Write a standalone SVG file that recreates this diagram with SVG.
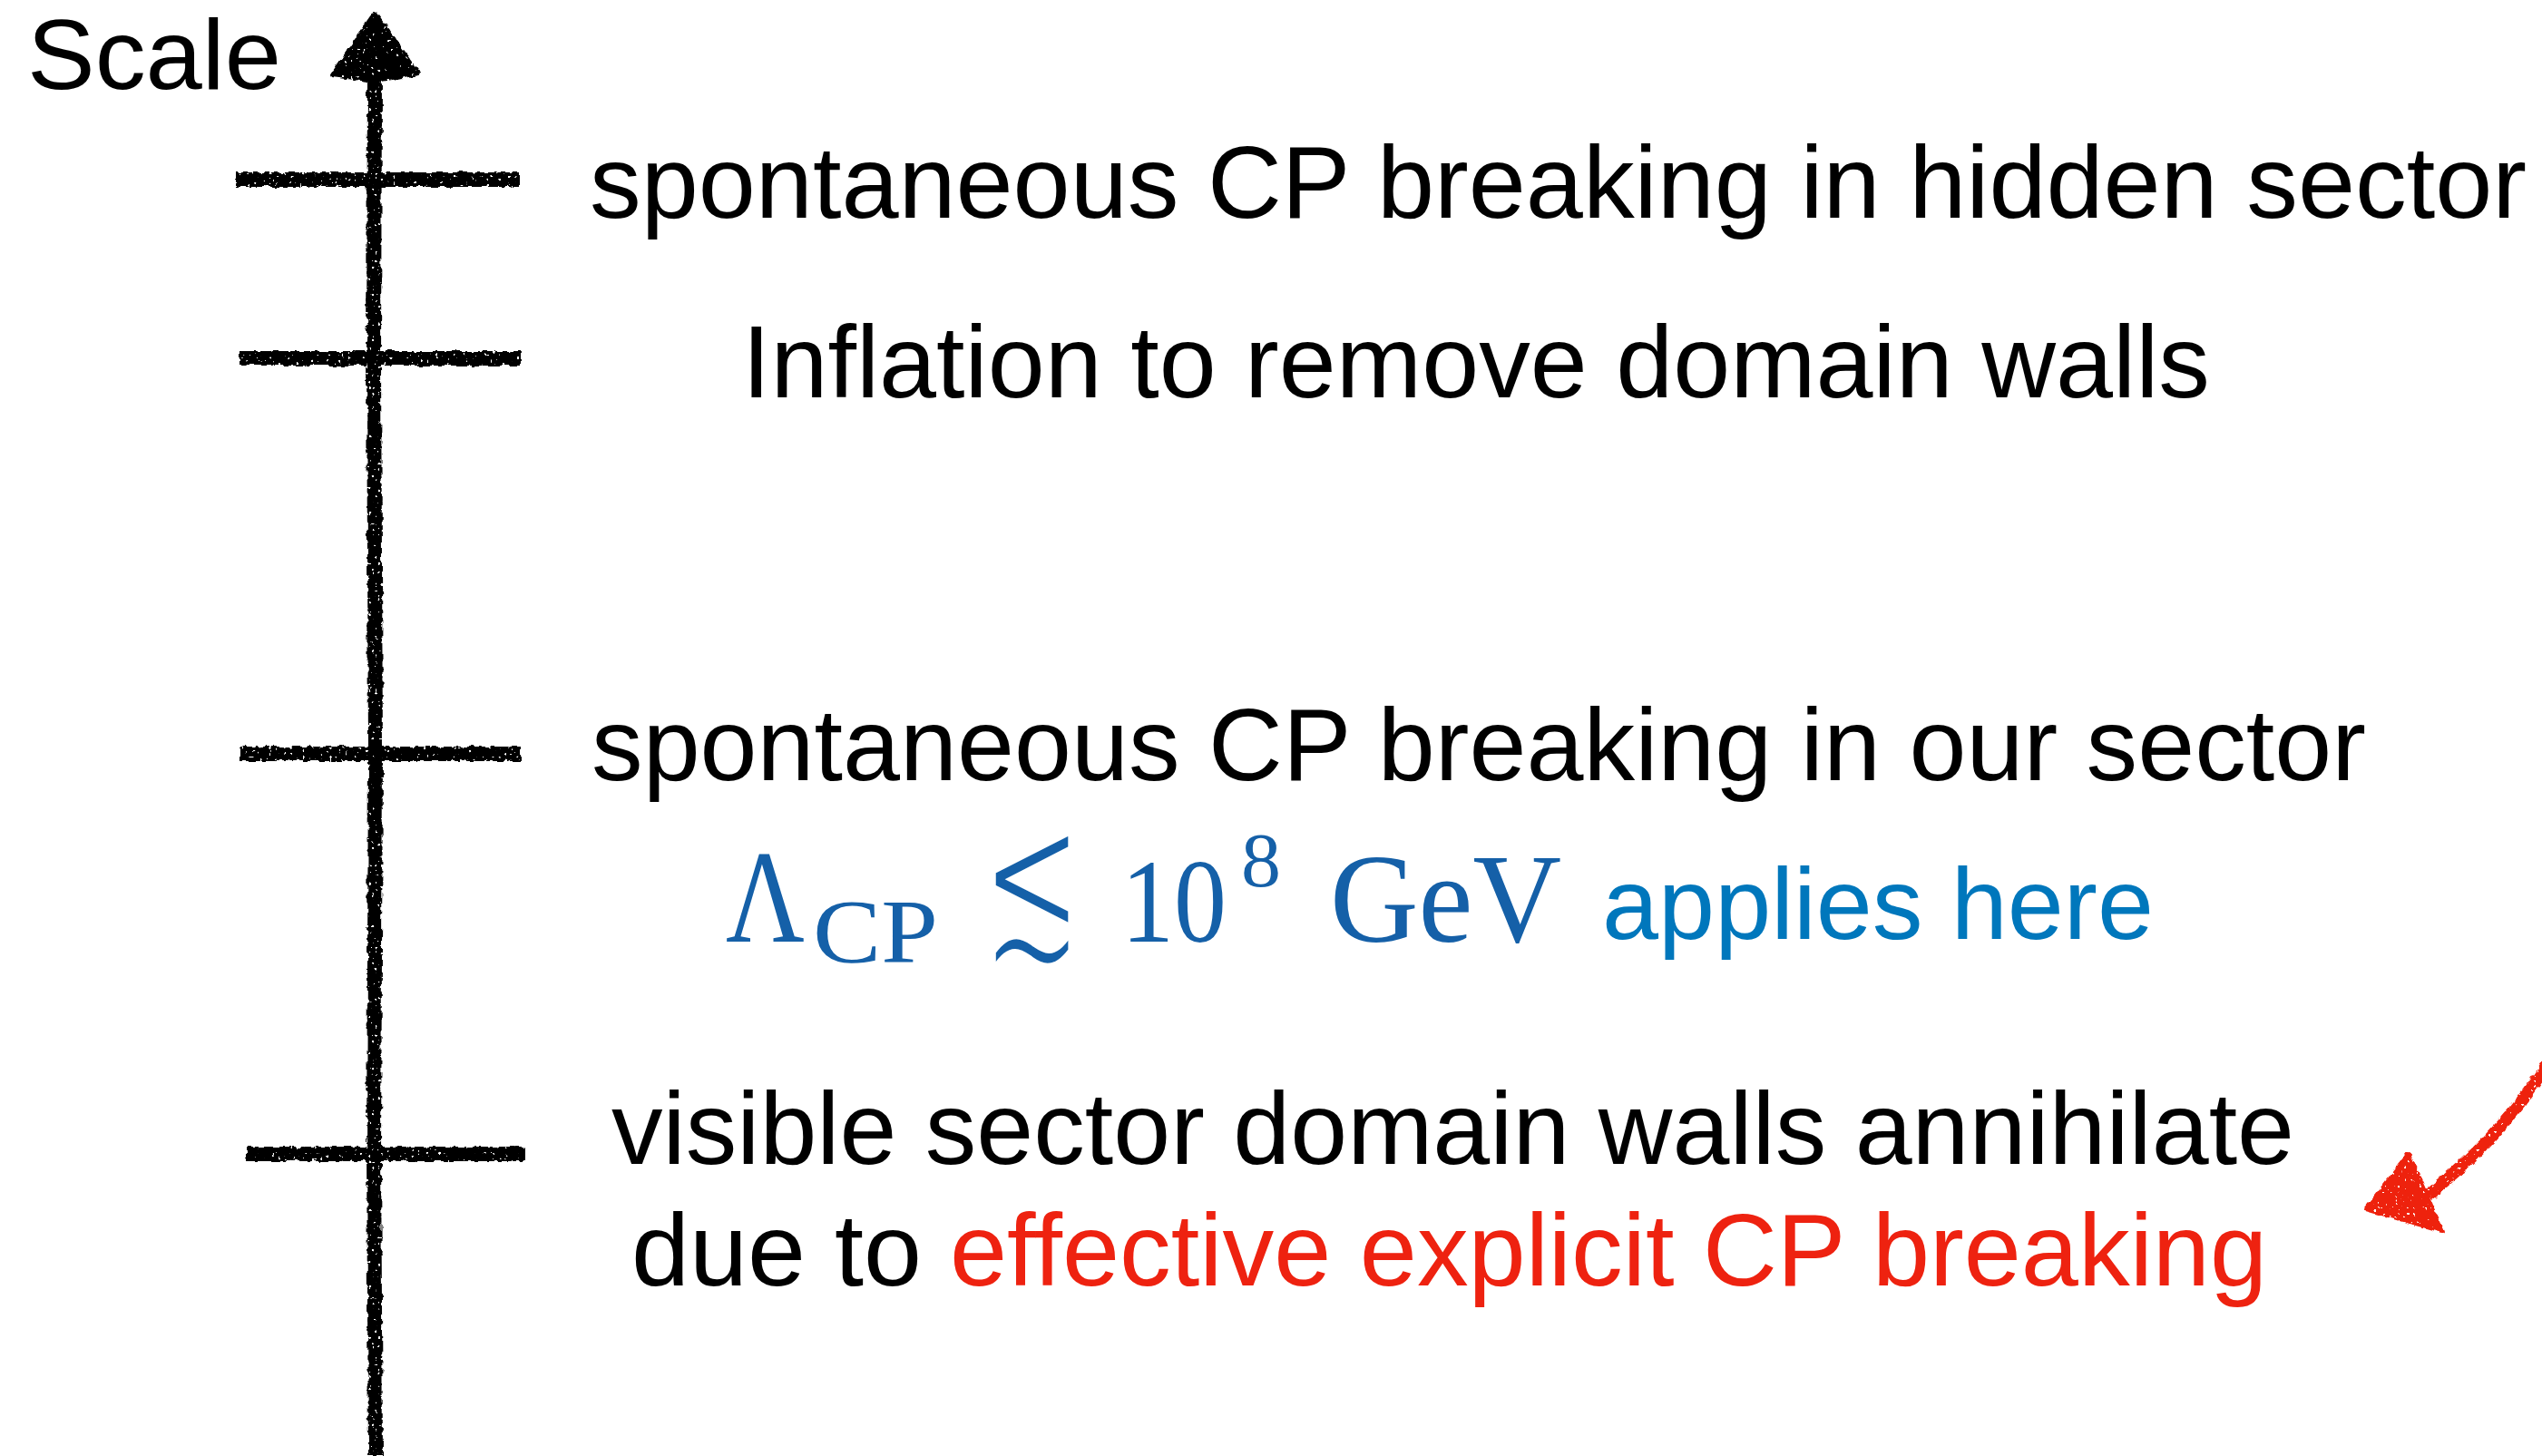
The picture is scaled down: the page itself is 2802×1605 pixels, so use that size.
<svg xmlns="http://www.w3.org/2000/svg" width="2802" height="1605" viewBox="0 0 2802 1605">
  <defs>
    <filter id="rough" filterUnits="userSpaceOnUse" x="0" y="0" width="2802" height="1605">
      <feTurbulence type="fractalNoise" baseFrequency="0.12" numOctaves="2" seed="4" result="n"/>
      <feDisplacementMap in="SourceGraphic" in2="n" scale="6" xChannelSelector="R" yChannelSelector="G" result="d"/>
      <feTurbulence type="fractalNoise" baseFrequency="0.3" numOctaves="1" seed="9" result="n2"/>
      <feColorMatrix in="n2" type="matrix" values="0 0 0 0 0  0 0 0 0 0  0 0 0 0 0  0 0 0 -25 18" result="holes"/>
      <feComposite in="d" in2="holes" operator="in"/>
    </filter>
  </defs>
  <style>
    .lbl { font-family: "Liberation Sans", Arial, Helvetica, sans-serif; font-size: 114px; fill: #000; }
    .red { fill: #EE2210; }
    .blue { font-family: "Liberation Sans", Arial, Helvetica, sans-serif; font-size: 112px; fill: #0077BC; }
    .math { font-family: "Liberation Serif", "Times New Roman", serif; fill: #1560A8; }
    .sym { font-family: "DejaVu Sans", sans-serif; fill: #1560A8; stroke: #fff; stroke-width: 7px; paint-order: fill stroke; }
    .tick { stroke: #000; stroke-width: 16; stroke-linecap: butt; fill: none; }
    .axis { stroke: #000; stroke-width: 16; fill: none; }
  </style>
  <rect width="2802" height="1605" fill="#fff"/>

  <g id="connectors">
    <g id="scale-axis" filter="url(#rough)">
      <path class="axis" d="M413,80 L412,400 L414,830 L412,1270 L414,1605"/>
      <path d="M413,15 L462,81 L414,89 L366,83 Z" fill="#000" stroke="#000" stroke-width="4" stroke-linejoin="round"/>
    </g>
    <g id="red-arrow" filter="url(#rough)">
      <path d="M2808,1172 Q2762,1248 2676,1318" fill="none" stroke="#EE2210" stroke-width="13"/>
      <path d="M2608,1333 L2655,1272 L2692,1357 Z" fill="#EE2210" stroke="#EE2210" stroke-width="4" stroke-linejoin="round"/>
    </g>
  </g>

  <g id="axis-title">
    <text class="lbl" x="30" y="98" style="font-size:110px" textLength="280" lengthAdjust="spacingAndGlyphs">Scale</text>
  </g>

  <g id="level-hidden-cp">
    <path class="tick" filter="url(#rough)" d="M260,198 L572,198"/>
    <text class="lbl" x="650" y="240" textLength="2135" lengthAdjust="spacingAndGlyphs">spontaneous CP breaking in hidden sector</text>
  </g>

  <g id="level-inflation">
    <path class="tick" filter="url(#rough)" d="M264,395 L574,395"/>
    <text class="lbl" x="818" y="438" textLength="1618" lengthAdjust="spacingAndGlyphs">Inflation to remove domain walls</text>
  </g>

  <g id="level-our-cp">
    <path class="tick" filter="url(#rough)" d="M264,831 L574,831"/>
    <text class="lbl" x="652" y="860" textLength="1956" lengthAdjust="spacingAndGlyphs">spontaneous CP breaking in our sector</text>
    <g id="bound">
      <text class="math"><tspan x="800" y="1038" style="font-size:146px" textLength="87" lengthAdjust="spacingAndGlyphs">Λ</tspan><tspan x="896" y="1060" style="font-size:100px" textLength="138" lengthAdjust="spacingAndGlyphs">CP</tspan></text>
      <text class="sym" transform="translate(1081,1056) scale(1,1.78)" style="font-size:135px" vector-effect="non-scaling-stroke">≲</text>
      <text class="math"><tspan x="1236" y="1038" style="font-size:132px" textLength="116" lengthAdjust="spacingAndGlyphs">10</tspan><tspan x="1368" y="977" style="font-size:84px" textLength="44" lengthAdjust="spacingAndGlyphs">8</tspan><tspan x="1466" y="1038" style="font-size:140px" textLength="255" lengthAdjust="spacingAndGlyphs">GeV</tspan></text>
      <text class="blue" x="1766" y="1035" textLength="608" lengthAdjust="spacingAndGlyphs">applies here</text>
    </g>
  </g>

  <g id="level-annihilate">
    <path class="tick" filter="url(#rough)" d="M272,1272 L580,1272"/>
    <text class="lbl" x="674" y="1283" textLength="1855" lengthAdjust="spacingAndGlyphs">visible sector domain walls annihilate</text>
    <text class="lbl" y="1417"><tspan x="696" textLength="320" lengthAdjust="spacingAndGlyphs">due to</tspan><tspan class="red" x="1047" textLength="1452" lengthAdjust="spacingAndGlyphs">effective explicit CP breaking</tspan></text>
  </g>
</svg>
